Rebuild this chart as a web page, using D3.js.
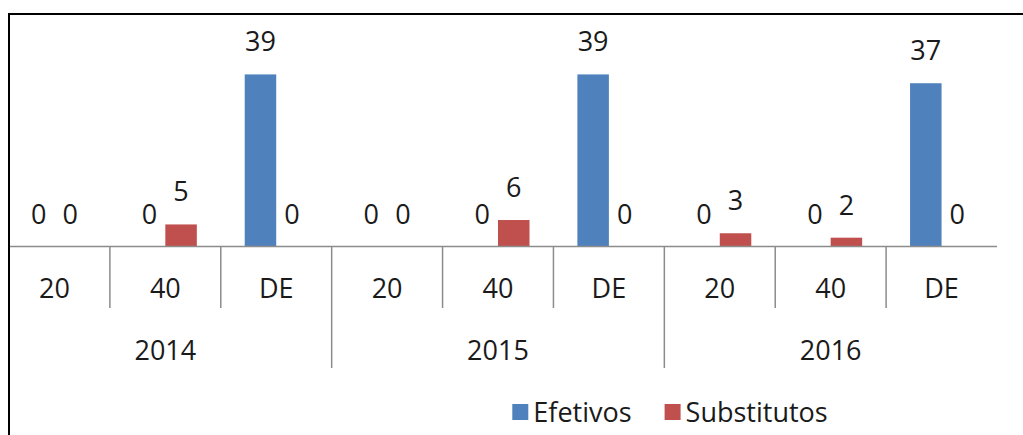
<!DOCTYPE html>
<html>
<head>
<meta charset="utf-8">
<script src="https://cdn.jsdelivr.net/npm/d3@7"></script>
<style>
  body { margin: 0; background: #fff; }
  text { font-family: "Open Sans", "Noto Sans", sans-serif; fill: #1a1a1a; }
</style>
</head>
<body>
<div id="viz"></div>
<script>
// chart data
var years = ['2014', '2015', '2016'];
var cats = ['20', '40', 'DE'];
var seriesNames = ['Efetivos', 'Substitutos'];
var efetivos = [0, 0, 39, 0, 0, 39, 0, 0, 37];
var substitutos = [0, 5, 0, 0, 6, 0, 3, 2, 0];
var colors = ['#4F81BD', '#C0504D'];

var width = 1023, height = 435;
var baseY = 246.5;
var fontSize = '27px';

var svg = d3.select('#viz').append('svg')
	.attr('width', width)
	.attr('height', height);

// flat list of categories (year x type)
var rows = [];
years.forEach(function(yr, gi) {
	cats.forEach(function(c, ci) {
		var i = gi * cats.length + ci;
		rows.push({key: i, year: yr, cat: c, values: [efetivos[i], substitutos[i]]});
	});
});

// scales
var x = d3.scaleBand()
	.domain(rows.map(function(d) { return d.key; }))
	.range([-1, 997]);

var xInner = d3.scaleBand()
	.domain(seriesNames)
	.range([0, x.bandwidth()])
	.paddingOuter(0.76);

var y = d3.scaleLinear()
	.domain([0, 40])
	.range([baseY, 70]);

// bars
var groups = svg.append('g').selectAll('.cat')
	.data(rows)
	.enter().append('g')
	.attr('class', 'cat')
	.attr('transform', function(d) { return 'translate(' + x(d.key) + ',0)'; });

var bars = groups.selectAll('.bar')
	.data(function(d) { return d.values.map(function(v, s) { return {v: v, s: s}; }); })
	.enter();

bars.append('rect')
	.attr('class', 'bar')
	.attr('x', function(d) { return xInner(seriesNames[d.s]); })
	.attr('width', xInner.bandwidth())
	.attr('y', function(d) { return y(d.v); })
	.attr('height', function(d) { return baseY - y(d.v); })
	.attr('fill', function(d) { return colors[d.s]; });

// value labels
bars.append('text')
	.attr('x', function(d) { return xInner(seriesNames[d.s]) + xInner.bandwidth() / 2; })
	.attr('y', function(d) { return y(d.v) - 23; })
	.attr('text-anchor', 'middle')
	.style('font-size', fontSize)
	.text(function(d) { return d.v; });

// axis line
svg.append('line')
	.attr('x1', 10).attr('x2', x.range()[1])
	.attr('y1', baseY).attr('y2', baseY)
	.attr('stroke', '#8c8c8c')
	.attr('stroke-width', 1.5);

// category separators: short inside a year, long between years
d3.range(1, rows.length).forEach(function(i) {
	var xx = x(i);
	svg.append('line')
		.attr('x1', xx).attr('x2', xx)
		.attr('y1', baseY).attr('y2', i % cats.length === 0 ? 368 : 308)
		.attr('stroke', '#8c8c8c')
		.attr('stroke-width', 1.5);
});

// category labels
svg.append('g').selectAll('text')
	.data(rows)
	.enter().append('text')
	.attr('x', function(d) { return x(d.key) + x.bandwidth() / 2; })
	.attr('y', 298)
	.attr('text-anchor', 'middle')
	.style('font-size', fontSize)
	.text(function(d) { return d.cat; });

// year labels
svg.append('g').selectAll('text')
	.data(years)
	.enter().append('text')
	.attr('x', function(d, gi) { return x(gi * cats.length) + x.bandwidth() * cats.length / 2; })
	.attr('y', 360)
	.attr('text-anchor', 'middle')
	.style('font-size', fontSize)
	.text(function(d) { return d; });

// legend
var legend = svg.append('g');
var lx = 0;
seriesNames.forEach(function(name, s) {
	legend.append('rect')
		.attr('x', lx).attr('y', -8)
		.attr('width', 16).attr('height', 16)
		.attr('fill', colors[s]);
	var t = legend.append('text')
		.attr('x', lx + 21)
		.attr('y', 10)
		.style('font-size', fontSize)
		.text(name);
	lx += 21 + t.node().getComputedTextLength() + 33;
});
lx -= 33;
legend.attr('transform', 'translate(' + (670 - lx / 2) + ',412)');

// chart border
svg.append('rect')
	.attr('x', 9).attr('y', 14)
	.attr('width', 1100).attr('height', 600)
	.attr('fill', 'none')
	.attr('stroke', '#000')
	.attr('stroke-width', 2);
</script>
</body>
</html>
